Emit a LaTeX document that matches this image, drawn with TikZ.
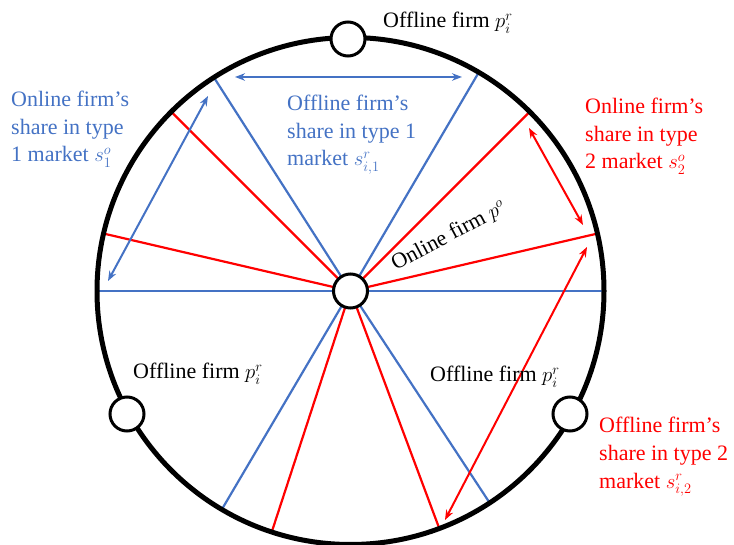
\documentclass[tikz,border=0pt]{standalone}
\usepackage{fontspec}
\setmainfont{Liberation Serif}
\usetikzlibrary{arrows.meta,calc,backgrounds}
\definecolor{myblue}{HTML}{4472C4}
\definecolor{myred}{HTML}{FF0000}
\begin{document}
\begin{tikzpicture}[x=1pt,y=1pt,
  rim/.style={line width=5pt},
  firm/.style={circle,draw=black,line width=3pt,fill=white,minimum size=34pt,inner sep=0pt},
  bline/.style={myblue,line width=2.2pt},
  rline/.style={myred,line width=2.2pt},
  barrow/.style={myblue,line width=2pt,{Stealth[length=10pt,width=7.5pt]}-{Stealth[length=10pt,width=7.5pt]}},
  rarrow/.style={myred,line width=2pt,{Stealth[length=10pt,width=7.5pt]}-{Stealth[length=10pt,width=7.5pt]}},
  lbl/.style={font=\rmfamily\fontsize{22}{27.5}\selectfont,inner sep=0pt,anchor=base west}
]
\useasboundingbox (0,0) rectangle (734,544);
\coordinate (O) at (350.5,253);
\def\R{253.5}
% firms
\node[firm] (c) at (O) {};
\node[firm] (ftop) at (348,505) {};
\node[firm] (fleft) at (127,130) {};
\node[firm] (fright) at (570,130) {};
% rim points
\foreach \n/\a in {b1/0,b2/59.6,b3/122.6,b4/180,b5/239.5,b6/303.3}
  \coordinate (\n) at ($(O)+(\a:\R)$);
\foreach \n/\a in {r1/13.1,r2/45,r3/135,r4/166.9,r5/251.9,r6/290.5}
  \coordinate (\n) at ($(O)+(\a:\R)$);
\begin{pgfonlayer}{background}
  \foreach \n in {b1,b2,b3,b4,b5,b6} \draw[bline] (c.center) -- (\n);
  \foreach \n in {r1,r2,r3,r4,r5,r6} \draw[rline] (c.center) -- (\n);
  \draw[rim] (O) circle (\R);
\end{pgfonlayer}
% arrows
\coordinate (bt1) at (235,467);
\coordinate (bt2) at (462,467);
\coordinate (bl1) at (208,448);
\coordinate (bl2) at (108,263);
\coordinate (rr1) at (529,416);
\coordinate (rr2) at (583,319);
\coordinate (rl1) at (587,297);
\coordinate (rl2) at (445,24);
\draw[barrow] (bt1) -- (bt2);
\draw[barrow] (bl1) -- (bl2);
\draw[rarrow] (rr1) -- (rr2);
\draw[rarrow] (rl1) -- (rl2);
% labels
\node[lbl] (ttop) at (383,516) {Offline firm $p_i^r$};
\node[lbl] (tll) at (133,165) {Offline firm $p_i^r$};
\node[lbl] (tlr) at (430,162) {Offline firm $p_i^r$};
\node[lbl,anchor=center,rotate=28] (ton) at (449,308) {Online firm $p^o$};
\begin{scope}[myblue]
\node[lbl,text=myblue] (tbl1) at (11,437) {Online firm’s};
\node[lbl,text=myblue] (tbl2) at (11,409.5) {share in type};
\node[lbl,text=myblue] (tbl3) at (11,382) {1 market $s_1^o$};
\node[lbl,text=myblue] (tbm1) at (287,433) {Offline firm’s};
\node[lbl,text=myblue] (tbm2) at (287,405.5) {share in type 1};
\node[lbl,text=myblue] (tbm3) at (287,378) {market $s_{i,1}^r$};
\end{scope}
\node[lbl,text=myred] (trr1) at (585,430) {Online firm’s};
\node[lbl,text=myred] (trr2) at (585,402.5) {share in type};
\node[lbl,text=myred] (trr3) at (585,375) {2 market $s_2^o$};
\node[lbl,text=myred] (trb1) at (599,111) {Offline firm’s};
\node[lbl,text=myred] (trb2) at (599,83.5) {share in type 2};
\node[lbl,text=myred] (trb3) at (599,56) {market $s_{i,2}^r$};
\end{tikzpicture}
\end{document}
